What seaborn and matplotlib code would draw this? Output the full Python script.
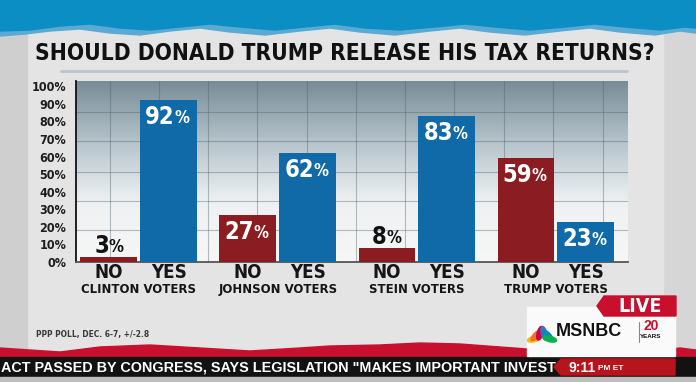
import numpy as np
import pandas as pd
import matplotlib
matplotlib.use("Agg")
import matplotlib.pyplot as plt
from matplotlib import font_manager as fm
from matplotlib.font_manager import FontProperties
from matplotlib.patches import Rectangle, Polygon, Ellipse
from matplotlib.colors import LinearSegmentedColormap
from matplotlib.transforms import Affine2D, blended_transform_factory
from matplotlib.lines import Line2D
import seaborn as sns

# ---------------- data ----------------
groups = ["CLINTON", "JOHNSON", "STEIN", "TRUMP"]
answers = ["NO", "YES"]
no_values = [3, 27, 8, 59]
yes_values = [92, 62, 83, 23]
y_ticks = [0, 10, 20, 30, 40, 50, 60, 70, 80, 90, 100]
title = "SHOULD DONALD TRUMP RELEASE HIS TAX RETURNS?"
source = "PPP POLL, DEC. 6-7, +/-2.8"
ticker = 'ACT PASSED BY CONGRESS, SAYS LEGISLATION "MAKES IMPORTANT INVEST'
clock = "9:11"

df = pd.DataFrame({
    "group": groups * 2,
    "answer": ["NO"] * 4 + ["YES"] * 4,
    "value": no_values + yes_values,
})

sns.set_style("white")
plt.rcParams["font.family"] = ["Liberation Sans", "DejaVu Sans"]


def _wnum(w):
    if isinstance(w, str):
        return fm.weight_dict.get(w, 400)
    return w


def narrow_bold():
    best = None
    for f in fm.fontManager.ttflist:
        st = str(f.stretch)
        narrow = st in ("condensed", "semi-condensed", "extra-condensed") or \
            "Narrow" in f.name or "Condensed" in f.name or "Cond" in f.fname
        if narrow and _wnum(f.weight) >= 600 and f.style == "normal":
            return FontProperties(fname=f.fname)
        if narrow and best is None and f.style == "normal":
            best = f
    if best is not None:
        return FontProperties(fname=best.fname, weight="bold")
    return FontProperties(family="Roboto", weight="bold")


NB = narrow_bold()


def nb(size):
    p = NB.copy()
    p.set_size(size)
    return p


W, H = 696, 382
fig = plt.figure(figsize=(6.96, 3.82), dpi=100)
fig.patch.set_facecolor("#d6d6d6")
T = Affine2D().scale(1 / W, -1 / H).translate(0, 1) + fig.transFigure
renderer = fig.canvas.get_renderer()


def add(p):
    p.set_transform(T)
    fig.add_artist(p)
    return p


def fit(t, width_px):
    bb = t.get_window_extent(renderer)
    t.set_fontsize(t.get_fontsize() * width_px / bb.width)
    return t


# card
add(Rectangle((27, 0), 636, H, color="#e4e4e4", zorder=0))
add(Rectangle((0, 0), 27, H, color="#cfcfcf", zorder=0))

# blue band with torn edge
edge_light = [(0, 36), (25, 34), (50, 31), (80, 29), (110, 33), (140, 35), (170, 31),
              (200, 28), (230, 32), (265, 35), (300, 31), (330, 28), (360, 32), (395, 35),
              (430, 31), (460, 28), (490, 32), (525, 35), (560, 31), (590, 28), (620, 32),
              (655, 35), (680, 31), (696, 33)]
edge_dark = [(0, 31), (30, 30), (60, 26), (90, 24), (120, 28), (150, 30), (180, 27),
             (210, 24), (240, 27), (275, 30), (305, 27), (335, 24), (365, 28), (400, 30),
             (435, 27), (465, 24), (495, 27), (530, 30), (565, 27), (595, 24), (625, 27),
             (660, 30), (685, 27), (696, 28)]
add(Polygon([(0, 0), (W, 0)] + edge_light[::-1], closed=True, color="#5aaad3", zorder=1))
add(Polygon([(0, 0), (W, 0)] + edge_dark[::-1], closed=True, color="#0b8ec4", zorder=1))

# title & underline
tt = fig.text(35, 54, title, transform=T, ha="left", va="center",
              fontproperties=nb(19), color="#111111", zorder=3)
fit(tt, 617)
fig.add_artist(Line2D([61, 627], [70.5, 70.5], transform=T, color="#b7c6d2", lw=2, zorder=3))

# ---------------- chart ----------------
ax = fig.add_axes([76 / W, 1 - 262 / H, 552 / W, 181 / H])
ax.set_zorder(2)

sns.barplot(data=df, x="group", y="value", hue="answer", order=groups,
            hue_order=answers, palette={"NO": "#8b1c21", "YES": "#0f6aa7"},
            width=0.863, gap=0.05, saturation=1, errorbar=None, legend=False,
            ax=ax, zorder=3, linewidth=0)

x0, x1 = -0.453, 3.518
y0, y1 = 0, 103
ax.set_xlim(x0, x1)
ax.set_ylim(y0, y1)

cmap = LinearSegmentedColormap.from_list("bg", ["#788c97", "#b5c3ca", "#eef1f2", "#f7f7f7"])
grad = np.linspace(0, 1, 256).reshape(-1, 1)
ax.imshow(grad, extent=[x0, x1, y0, y1], aspect="auto", cmap=cmap, origin="upper", zorder=0)

for py in [112, 141, 172, 201, 230]:
    ax.axhline(y1 * (262 - py) / 181, color="#4e616b", lw=0.8, alpha=0.4, zorder=1)
for px in [110, 159, 208, 257, 307, 356, 405, 454, 504, 553, 603]:
    ax.axvline(x0 + (px - 76) / 552 * (x1 - x0), color="#4e616b", lw=0.8, alpha=0.4, zorder=1)

ax.set_yticks(y_ticks)
ax.set_yticklabels([f"{t}%" for t in y_ticks], color="#1e1e1e")
for lab in ax.get_yticklabels():
    lab.set_fontproperties(nb(9))
ax.set_xticks([])
ax.tick_params(axis="y", length=0, pad=7)
ax.set_xlabel("")
ax.set_ylabel("")
for s in ["top", "right"]:
    ax.spines[s].set_visible(False)
ax.spines["left"].set_color("#111111")
ax.spines["left"].set_linewidth(1.3)
ax.spines["bottom"].set_color("#555555")
ax.spines["bottom"].set_linewidth(1.3)

bt = blended_transform_factory(ax.transData, ax.transAxes)
centers = {}
for cont, ans in zip(ax.containers, answers):
    vals = no_values if ans == "NO" else yes_values
    for bar, v, g in zip(cont, vals, groups):
        cx = bar.get_x() + bar.get_width() / 2
        centers.setdefault(g, []).append(cx)
        top = bar.get_height()
        n = len(str(v))
        shift = (12 * n - 12) / 2 * 0.72
        if v < 15:
            dy, col = 11 * 0.72, "#111111"
        else:
            dy, col = -17 * 0.72, "white"
        ax.annotate(str(v), (cx, top), xytext=(shift, dy), textcoords="offset points",
                    ha="right", va="center", fontproperties=nb(17), color=col, zorder=5)
        ax.annotate("%", (cx, top), xytext=(shift - 0.4, dy - 0.8), textcoords="offset points",
                    ha="left", va="center", fontproperties=nb(12), color=col, zorder=5)
        ax.text(cx, -0.058, ans, transform=bt, ha="center", va="center",
                fontproperties=nb(13.5), color="#151515", clip_on=False)

glabs = []
for g in groups:
    glabs.append(ax.text(np.mean(centers[g]), -0.152, f"{g} VOTERS", transform=bt, ha="center",
                         va="center", fontproperties=nb(11), color="#151515", clip_on=False))
bb = glabs[0].get_window_extent(renderer)
sc = 114 / bb.width
for gl in glabs:
    gl.set_fontsize(gl.get_fontsize() * sc)

# ---------------- TV chrome ----------------
src = fig.text(36, 335, source, transform=T, ha="left", va="center",
               fontproperties=nb(7), color="#3a3a3a")
fit(src, 113)

red_edge = [(0, 348), (30, 350), (60, 352), (100, 347), (150, 345), (200, 348), (250, 351),
            (300, 348), (330, 346), (380, 345), (420, 343), (460, 344), (500, 347),
            (540, 350), (600, 349), (640, 352), (680, 348), (696, 350)]
add(Polygon(red_edge + [(W, 358), (0, 358)], closed=True, color="#c8102e", zorder=4))
add(Rectangle((0, 357), W, 20, color="#121212", zorder=5))
add(Rectangle((0, 377), W, 5, color="#bdbdbd", zorder=5))
tk = fig.text(1, 367, ticker, transform=T, ha="left", va="center", fontsize=11,
              fontweight="bold", color="white", zorder=6)
fit(tk, 552)

add(Polygon([(561, 359), (675, 359), (675, 375), (561, 375), (554, 367)], closed=True,
            color="#b8141e", zorder=7))
fig.text(596, 367.5, clock, transform=T, ha="right", va="center", fontsize=10,
         fontweight="bold", color="white", zorder=8)
fig.text(598, 368.5, "PM ET", transform=T, ha="left", va="center", fontsize=6,
         fontweight="bold", color="white", zorder=8)

# logo box
add(Rectangle((527, 307), 148, 49, color="#fafafa", zorder=6))
add(Polygon([(604, 296), (676, 296), (676, 316), (604, 316), (597, 306)], closed=True,
            color="#c8102e", zorder=7))
fig.text(640, 306.5, "LIVE", transform=T, ha="center", va="center",
         fontproperties=nb(14), color="white", zorder=8)
fig.text(556, 332, "MSNBC", transform=T, ha="left", va="center", fontsize=13,
         fontweight="bold", color="#111111", zorder=8)
fig.text(651, 326, "20", transform=T, ha="center", va="center", fontsize=10,
         fontweight="bold", color="#c8102e", zorder=8)
fig.text(651, 337, "YEARS", transform=T, ha="center", va="center", fontsize=4.5,
         fontweight="bold", color="#111111", zorder=8)
fig.add_artist(Line2D([639, 639], [322, 342], transform=T, color="#888888", lw=0.8, zorder=8))
feathers = ["#fcb711", "#f37021", "#cc004c", "#6460aa", "#0089d0", "#0db14b"]
for i, c in enumerate(feathers):
    ang = -75 + i * 30
    th = np.deg2rad(ang)
    cxp, cyp = 542 + 8 * np.sin(th), 341 - 8 * np.cos(th)
    add(Ellipse((cxp, cyp), 5.5, 14, angle=-ang, color=c, zorder=8))

fig.savefig("out.png", dpi=100, facecolor=fig.get_facecolor())
